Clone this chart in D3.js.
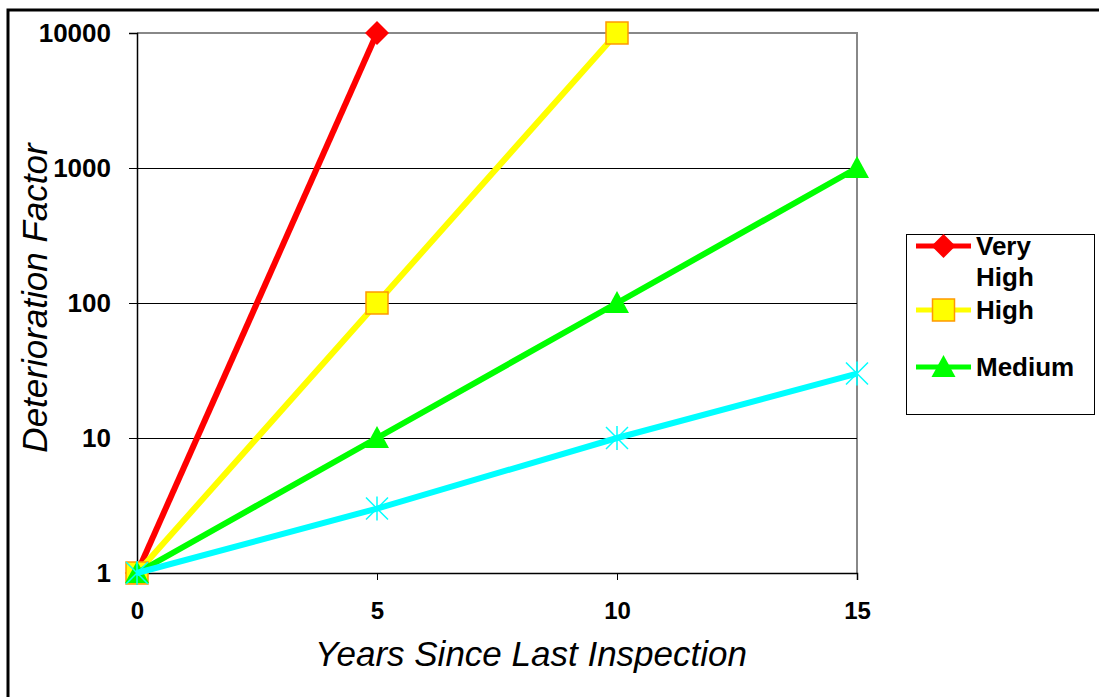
<!DOCTYPE html>
<html lang="en">
<head>
<meta charset="UTF-8">
<title>Deterioration Factor</title>
<style>
  body { margin: 0; background: #fff; }
  text { font-family: Arial, "Liberation Sans", sans-serif; }
</style>
</head>
<body>
<svg width="1099" height="697" id="svg"></svg>
<script src="https://cdn.jsdelivr.net/npm/d3@7"></script>
<script>
  // data
  const years = [0, 5, 10, 15]
  const veryHigh = [1, 10000]
  const high = [1, 100, 10000]
  const medium = [1, 10, 100, 1000]
  const low = [1, 3, 10, 30]
  const yTicks = [1, 10, 100, 1000, 10000]
  const xTicks = [0, 5, 10, 15]
  const legendNames = ["Very High", "High", "Medium"]

  const series = [
    { name: "Very High", values: veryHigh, color: "#ff0000", marker: "diamond" },
    { name: "High", values: high, color: "#ffff00", marker: "square" },
    { name: "Medium", values: medium, color: "#00ff00", marker: "triangle" },
    { name: "Low", values: low, color: "#00ffff", marker: "star" }
  ]

  const svg = d3.select("svg#svg")
  const plot = { left: 137, top: 33, right: 857, bottom: 573 }

  // outer frame (only top and left edges show in the picture)
  svg.append("rect").attr("x", 8).attr("y", 10).attr("width", 1200).attr("height", 800)
    .attr("fill", "none").attr("stroke", "#000").attr("stroke-width", 3)

  const x = d3.scaleLinear().domain([0, 15]).range([plot.left, plot.right])
  const y = d3.scaleLog().domain([1, 10000]).range([plot.bottom, plot.top])

  // plot area border (gray top/right)
  svg.append("path")
    .attr("d", `M${plot.left},${plot.top}H${plot.right}V${plot.bottom}`)
    .attr("fill", "none").attr("stroke", "#888").attr("stroke-width", 2)

  // gridlines
  svg.append("g").selectAll("line").data(yTicks.slice(1, -1)).join("line")
    .attr("x1", plot.left).attr("x2", plot.right)
    .attr("y1", d => y(d) + 0.5).attr("y2", d => y(d) + 0.5)
    .attr("stroke", "#000").attr("stroke-width", 1).attr("shape-rendering", "crispEdges")

  // axes
  const yAxis = d3.axisLeft(y).tickValues(yTicks).tickFormat(d3.format("d")).tickSize(8).tickPadding(18)
  const gy = svg.append("g").attr("transform", `translate(${plot.left},0)`).call(yAxis)
  gy.select(".domain").attr("stroke", "#000").attr("stroke-width", 1.5)
  gy.selectAll(".tick line").attr("stroke", "#000")
  gy.selectAll(".tick text").attr("font-size", 26).attr("font-weight", "bold")
    .attr("font-family", "Arial, 'Liberation Sans', sans-serif").attr("fill", "#000")

  const xAxis = d3.axisBottom(x).tickValues(xTicks).tickSize(7).tickPadding(22)
  const gx = svg.append("g").attr("transform", `translate(0,${plot.bottom})`).call(xAxis)
  gx.select(".domain").attr("stroke", "#000").attr("stroke-width", 1.5)
  gx.selectAll(".tick line").attr("stroke", "#000")
  gx.selectAll(".tick text").attr("font-size", 24).attr("font-weight", "bold")
    .attr("font-family", "Arial, 'Liberation Sans', sans-serif").attr("fill", "#000")

  // axis titles
  svg.append("text").attr("x", 531).attr("y", 666).attr("text-anchor", "middle")
    .attr("font-size", 35).attr("font-style", "italic").attr("fill", "#000")
    .text("Years Since Last Inspection")
  svg.append("text").attr("transform", "translate(47,298) rotate(-90)").attr("text-anchor", "middle")
    .attr("font-size", 35).attr("font-style", "italic").attr("fill", "#000")
    .text("Deterioration Factor")

  function drawMarker(g, type, color, cx, cy) {
    if (type === "diamond") {
      g.append("path").attr("d", `M${cx},${cy - 12}L${cx + 12},${cy}L${cx},${cy + 12}L${cx - 12},${cy}Z`)
        .attr("fill", color)
    } else if (type === "square") {
      g.append("rect").attr("x", cx - 11).attr("y", cy - 11).attr("width", 22).attr("height", 22)
        .attr("fill", color).attr("stroke", "#ff9900").attr("stroke-width", 1.5)
    } else if (type === "triangle") {
      g.append("path").attr("d", `M${cx},${cy - 12}L${cx + 12},${cy + 10}L${cx - 12},${cy + 10}Z`)
        .attr("fill", color)
    } else {
      g.append("path")
        .attr("d", `M${cx - 11},${cy - 11}L${cx + 11},${cy + 11}M${cx - 11},${cy + 11}L${cx + 11},${cy - 11}M${cx},${cy - 12}V${cy + 12}`)
        .attr("stroke", color).attr("stroke-width", 1.5)
    }
  }

  const line = d3.line().x((d, i) => x(years[i])).y(d => y(d))
  series.forEach(s => {
    const g = svg.append("g")
    g.append("path").attr("d", line(s.values)).attr("fill", "none")
      .attr("stroke", s.color).attr("stroke-width", 6)
    s.values.forEach((v, i) => drawMarker(g, s.marker, s.color, x(years[i]), y(v)))
  })

  // legend
  const lg = svg.append("g")
  lg.append("rect").attr("x", 906.5).attr("y", 234.5).attr("width", 188).attr("height", 180)
    .attr("fill", "#fff").attr("stroke", "#000").attr("stroke-width", 1)
  const legendRows = [
    { lines: ["Very", "High"], cy: 246 },
    { lines: ["High"], cy: 310 },
    { lines: ["Medium"], cy: 367 }
  ]
  legendNames.forEach((name, i) => {
    const s = series[i]
    const row = legendRows[i]
    lg.append("line").attr("x1", 916).attr("x2", 971).attr("y1", row.cy).attr("y2", row.cy)
      .attr("stroke", s.color).attr("stroke-width", 5)
    drawMarker(lg, s.marker, s.color, 943.5, row.cy)
    row.lines.forEach((t, j) => {
      lg.append("text").attr("x", 976).attr("y", row.cy + 9 + j * 31)
        .attr("font-size", 26).attr("font-weight", "bold").attr("fill", "#000").text(t)
    })
  })
</script>
</body>
</html>
